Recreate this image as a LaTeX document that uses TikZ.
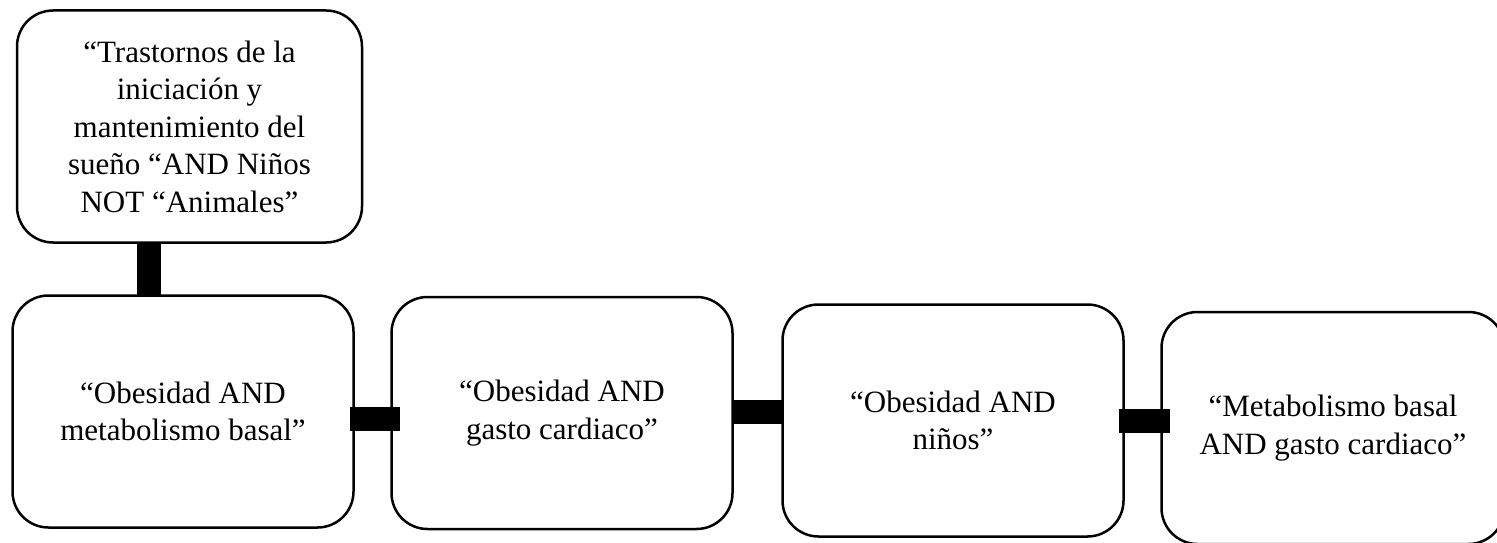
\documentclass[tikz,border=0pt]{standalone}
\usepackage{fontspec}
\setmainfont{Liberation Serif}
\usetikzlibrary{positioning}

\tikzset{
  query/.style={draw, line width=2.5pt, rounded corners=36pt,
    minimum width=341pt, minimum height=232pt, inner sep=0pt,
    align=center, font=\fontsize{31}{37.5}\selectfont},
  link/.style={line width=24pt}
}

\begin{document}
\begin{tikzpicture}
        \useasboundingbox (0,0) rectangle (1497pt,542pt);

        % Nodes

        \node[query] (b1) at (183pt,130.5pt) {“Obesidad AND\\metabolismo basal”};
        \node[query, right=35.5pt of b1, yshift=-1.5pt] (b2) {“Obesidad AND\\gasto cardiaco”};
        \node[query, right=47.5pt of b2, yshift=-7.5pt] (b3) {“Obesidad AND\\niños”};
        \node[query, right=35.5pt of b3, yshift=-7.5pt, minimum width=343pt] (b4) {“Metabolismo basal\\AND gasto cardiaco”};
        \node[query, above=50.5pt of b1, xshift=6.5pt, minimum width=345pt] (q0) {“Trastornos de la\\iniciación y\\mantenimiento del\\sueño “AND Niños\\NOT “Animales”};

        % Edges

        \draw[link, shorten <=-1pt, shorten >=-1pt] ([xshift=-40.5pt]q0.south) -- ([xshift=-40.5pt]q0.south |- b1.north);
        \draw[link, shorten <=-5pt, shorten >=-10pt] ([yshift=-7.5pt]b1.east) -- ([yshift=-7.5pt]b1.east -| b2.west);
        \draw[link, shorten <=-1pt, shorten >=-3pt] ([yshift=1.5pt]b2.east) -- ([yshift=1.5pt]b2.east -| b3.west);
        \draw[link, shorten <=-6pt, shorten >=-10pt] (b3.east) -- (b3.east -| b4.west);

    \end{tikzpicture}
\end{document}
